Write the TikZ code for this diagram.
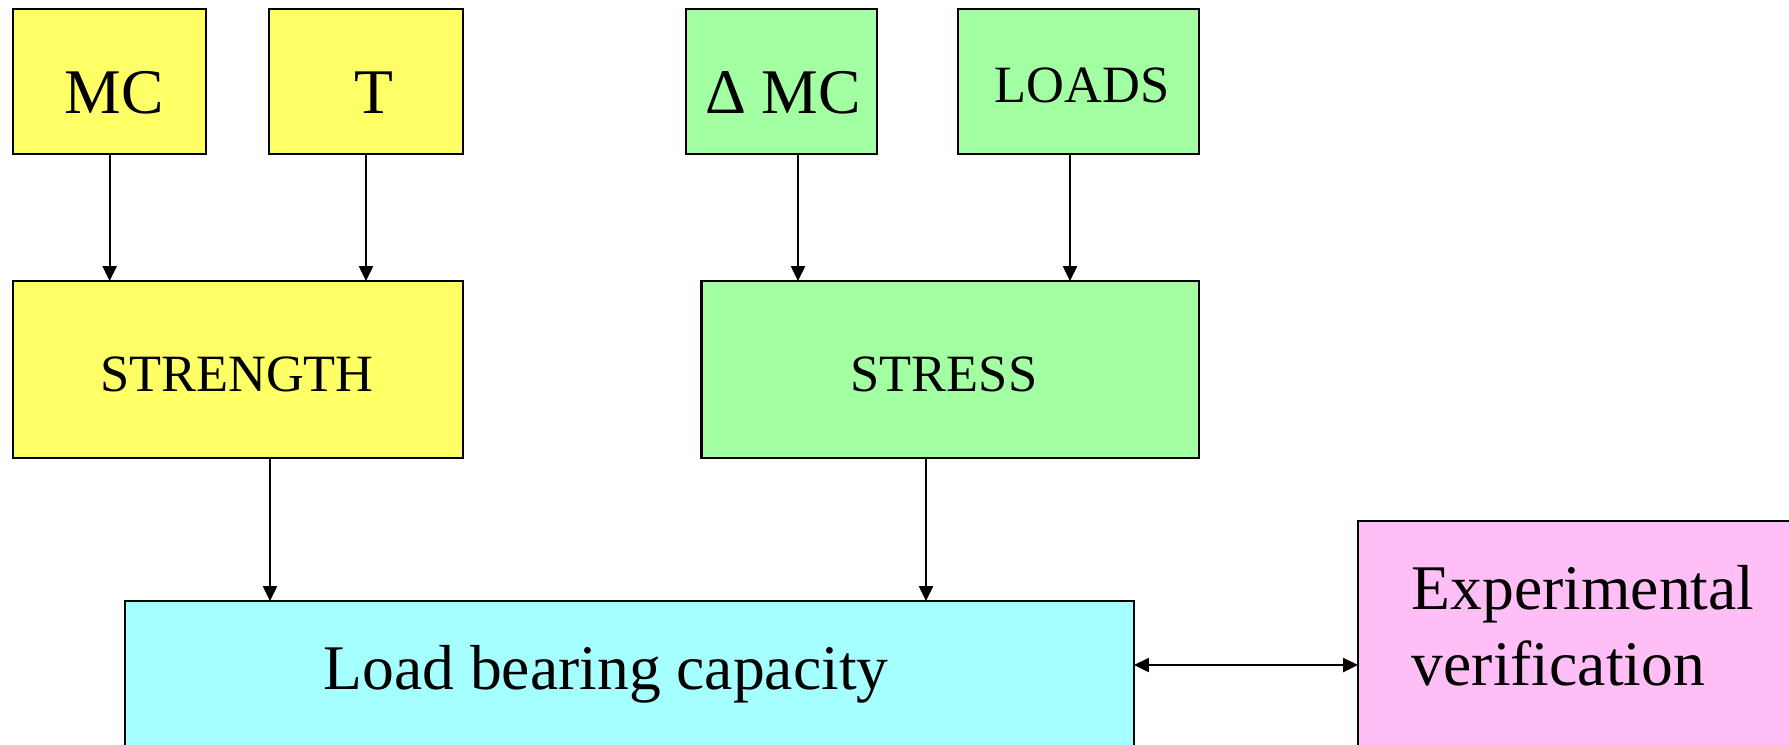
\documentclass[tikz,border=0pt]{standalone}
\usepackage{fontspec}
\setmainfont{Liberation Serif}
\usetikzlibrary{fit,arrows.meta}
\definecolor{cxamar}{HTML}{FFFF66}
\definecolor{cxverde}{HTML}{A2FFA2}
\definecolor{cxciano}{HTML}{A6FFFF}
\definecolor{cxrosa}{HTML}{FFBEF6}
\tikzset{
  caixa/.style={draw=black,line width=0.55pt,inner sep=0pt,outer sep=0pt},
  rotg/.style={font=\fontsize{15.9}{19}\selectfont,inner sep=0pt,anchor=base},
  rotp/.style={font=\fontsize{13.1}{16}\selectfont,inner sep=0pt,anchor=base},
  seta/.style={line width=0.45pt,-{Triangle[length=3.7pt,width=3.5pt]}},
  seta2/.style={line width=0.45pt,{Triangle[length=3.7pt,width=3.5pt]}-{Triangle[length=3.7pt,width=3.5pt]}},
}

\begin{document}
\begin{tikzpicture}[x=0.25pt,y=-0.25pt]
  \useasboundingbox (0,0) rectangle (1789,744);
  \clip (0,0) rectangle (1789,744);
  % --- entradas
  \node[caixa,fill=cxamar,fit={(13.3,9) (206,153.7)}] (mc) {};
  \node[caixa,fill=cxamar,fit={(269.3,9) (462.7,153.7)}] (t) {};
  \node[caixa,fill=cxverde,fit={(686,9) (877,153.7)}] (dmc) {};
  \node[caixa,fill=cxverde,fit={(958,9) (1199,153.7)}] (lds) {};
  \node[rotg] (tmc) at (114,113) {MC};
  \node[rotg] (tt) at (374,113) {T};
  \node[rotg] (tdmc) at (783,113) {Δ MC};
  \node[rotp] (tlds) at (1082,102) {LOADS};
  % --- resistencia e solicitacao
  \node[caixa,fill=cxamar,fit={(13.3,281) (462.7,457.7)}] (strength) {};
  \node[caixa,fill=cxverde,fit={(701.5,281) (1198.8,457.7)}] (stress) {};
  \node[rotp] (tstrength) at (237,391) {STRENGTH};
  \node[rotp] (tstress) at (944,391) {STRESS};
  % --- capacidade e verificacao
  \node[caixa,fill=cxciano,fit={(125,601) (1134,800)}] (lbc) {};
  \node[caixa,fill=cxrosa,fit={(1358,521) (1850,800)}] (exp) {};
  \node[rotg] (tlbc) at (606,689) {Load bearing capacity};
  \node[rotg,anchor=north west,align=left] (texp) at (1411,565) {Experimental\\verification};
  % --- setas
  \draw[seta] (mc.south) -- (mc.south |- strength.north);
  \draw[seta] (t.south) -- (t.south |- strength.north);
  \coordinate (xdmc) at (798,0);
  \coordinate (xlds) at (1070,0);
  \draw[seta] (dmc.south -| xdmc) -- (stress.north -| xdmc);
  \draw[seta] (lds.south -| xlds) -- (stress.north -| xlds);
  \coordinate (xstg) at (270,0);
  \coordinate (xsts) at (926,0);
  \draw[seta] (strength.south -| xstg) -- (lbc.north -| xstg);
  \draw[seta] (stress.south -| xsts) -- (lbc.north -| xsts);
  \coordinate (yver) at (0,665);
  \draw[seta2] (lbc.east |- yver) -- (exp.west |- yver);
\end{tikzpicture}
\end{document}
